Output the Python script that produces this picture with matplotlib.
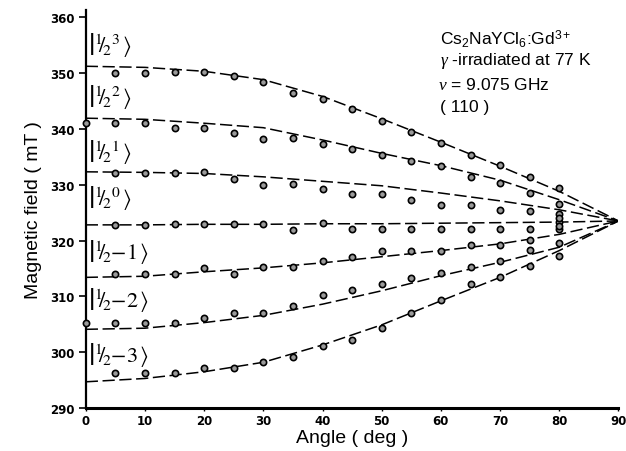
import numpy as np
import matplotlib
matplotlib.use("Agg")
import matplotlib.pyplot as plt

plt.rcParams['font.family'] = ['Liberation Sans', 'DejaVu Sans']
plt.rcParams['mathtext.fontset'] = 'custom'
plt.rcParams['mathtext.rm'] = 'Liberation Sans'
plt.rcParams['mathtext.it'] = 'Liberation Serif:italic'

# measured points (mT) at 5..80 deg
angles = [5, 10, 15, 20, 25, 30, 35, 40, 45, 50, 55, 60, 65, 70, 75, 80]
pts_p3 = [350.0, 350.0, 350.2, 350.2, 349.4, 348.3, 346.4, 345.4,
          343.5, 341.4, 339.5, 337.4, 335.4, 333.6, 331.3, 329.4]
pts_p2 = [341.0, 341.0, 340.1, 340.1, 339.2, 338.2, 338.3, 337.3,
          336.4, 335.4, 334.3, 333.4, 331.4, 330.3, 328.5, 326.6]
pts_p1 = [332.1, 332.1, 332.1, 332.2, 331.0, 330.0, 330.1, 329.2,
          328.3, 328.3, 327.2, 326.4, 326.4, 325.4, 325.3, 324.7]
pts_0 = [322.8, 322.8, 322.9, 322.9, 322.9, 322.9, 321.9, 323.1,
         322.0, 322.0, 322.0, 322.0, 322.0, 322.0, 322.0, 323.4]
pts_m1 = [314.0, 314.0, 314.0, 315.1, 314.0, 315.2, 315.2, 316.3,
          317.1, 318.2, 318.2, 318.2, 319.2, 319.2, 320.1, 322.0]
pts_m2 = [305.2, 305.2, 305.2, 306.1, 307.1, 307.1, 308.3, 310.2,
          311.2, 312.3, 313.3, 314.2, 315.3, 316.4, 318.3, 319.5]
pts_m3 = [296.2, 296.2, 296.2, 297.2, 297.2, 298.2, 299.2, 301.2,
          302.2, 304.3, 307.1, 309.4, 312.3, 313.4, 315.4, 317.3]
# extra points on the axis and in the 80 deg cluster
extra_ang = [0, 0, 80, 80]
extra_val = [341.0, 305.2, 324.0, 322.6]

# fitted curves read at every 10 deg
fit_ang = [0, 10, 20, 30, 40, 50, 60, 70, 80, 90]
fit_p3 = [351.2, 351.0, 350.3, 348.8, 345.8, 341.8, 337.6, 333.3, 328.8, 323.5]
fit_p2 = [341.9, 341.7, 341.0, 340.2, 338.0, 335.6, 333.4, 330.8, 327.3, 323.5]
fit_p1 = [332.3, 332.2, 332.0, 331.4, 330.6, 329.8, 328.5, 327.1, 325.5, 323.5]
fit_0 = [322.8, 322.8, 322.9, 322.9, 323.0, 323.0, 323.1, 323.2, 323.3, 323.5]
fit_m1 = [313.4, 313.6, 314.4, 315.1, 316.0, 317.1, 318.2, 319.4, 321.1, 323.5]
fit_m2 = [304.1, 304.3, 305.3, 306.6, 308.6, 311.0, 313.7, 316.1, 318.8, 323.5]
fit_m3 = [294.7, 295.3, 296.5, 298.2, 301.3, 304.9, 309.2, 313.4, 318.2, 323.5]

ket_labels = [r'$\left|{}^{1}\!\!/\!{}_{2}{}^{3}\,\right\rangle$',
              r'$\left|{}^{1}\!\!/\!{}_{2}{}^{2}\,\right\rangle$',
              r'$\left|{}^{1}\!\!/\!{}_{2}{}^{1}\,\right\rangle$',
              r'$\left|{}^{1}\!\!/\!{}_{2}{}^{0}\,\right\rangle$',
              r'$\left|{}^{1}\!\!/\!{}_{2}{-1}\,\right\rangle$',
              r'$\left|{}^{1}\!\!/\!{}_{2}{-2}\,\right\rangle$',
              r'$\left|{}^{1}\!\!/\!{}_{2}{-3}\,\right\rangle$']
ket_y = [355.2, 345.9, 336.0, 327.8, 318.1, 309.5, 299.7]

fig = plt.figure(figsize=(6.26, 4.52), dpi=100)
ax = fig.add_axes([0.137, 0.095, 0.851, 0.881])

dash = (8, 3)
for fit in [fit_p3, fit_p2, fit_p1, fit_0, fit_m1, fit_m2, fit_m3]:
    ax.plot(fit_ang, fit, color='black', lw=1.1, dashes=dash)

mk = dict(ls='none', marker='o', ms=4.5, mfc='#9a9a9a', mec='black',
          mew=1.2, clip_on=False, zorder=3)
for pts in [pts_p3, pts_p2, pts_p1, pts_0, pts_m1, pts_m2, pts_m3]:
    ax.plot(angles, pts, **mk)
ax.plot(extra_ang, extra_val, **mk)

for lab, y in zip(ket_labels, ket_y):
    ax.text(0.4, y, lab, fontsize=16, va='center', ha='left',
            math_fontfamily='stix')

ax.text(0.665, 0.93, r'Cs$_2$NaYCl$_6$:Gd$^{3+}$', transform=ax.transAxes,
        fontsize=12.5, va='center')
ax.text(0.665, 0.873, r'$\gamma$ -irradiated at 77 K', transform=ax.transAxes,
        fontsize=12.5, va='center')
ax.text(0.662, 0.813, r'$\nu$ = 9.075 GHz', transform=ax.transAxes,
        fontsize=12.5, va='center')
ax.text(0.665, 0.757, '( 110 )', transform=ax.transAxes,
        fontsize=12.5, va='center')

ax.set_xlim(0, 90)
ax.set_ylim(290, 361.3)
ax.set_xticks(range(0, 91, 10))
ax.set_yticks(range(290, 361, 10))
for lab in ax.get_xticklabels() + ax.get_yticklabels():
    lab.set_fontfamily('DejaVu Sans')
    lab.set_fontweight('bold')
    lab.set_fontsize(8.5)
ax.tick_params(axis='y', direction='out', length=5, width=1.2, pad=3)
ax.tick_params(axis='x', direction='out', length=2, width=1, pad=2)

ax.spines['top'].set_visible(False)
ax.spines['right'].set_visible(False)
ax.spines['left'].set_linewidth(1.6)
ax.spines['bottom'].set_linewidth(2.2)

ax.set_xlabel('Angle ( deg )', fontsize=14, labelpad=2)
ax.set_ylabel('Magnetic field ( mT )', fontsize=14, labelpad=6)

fig.savefig('out.png', dpi=100)
